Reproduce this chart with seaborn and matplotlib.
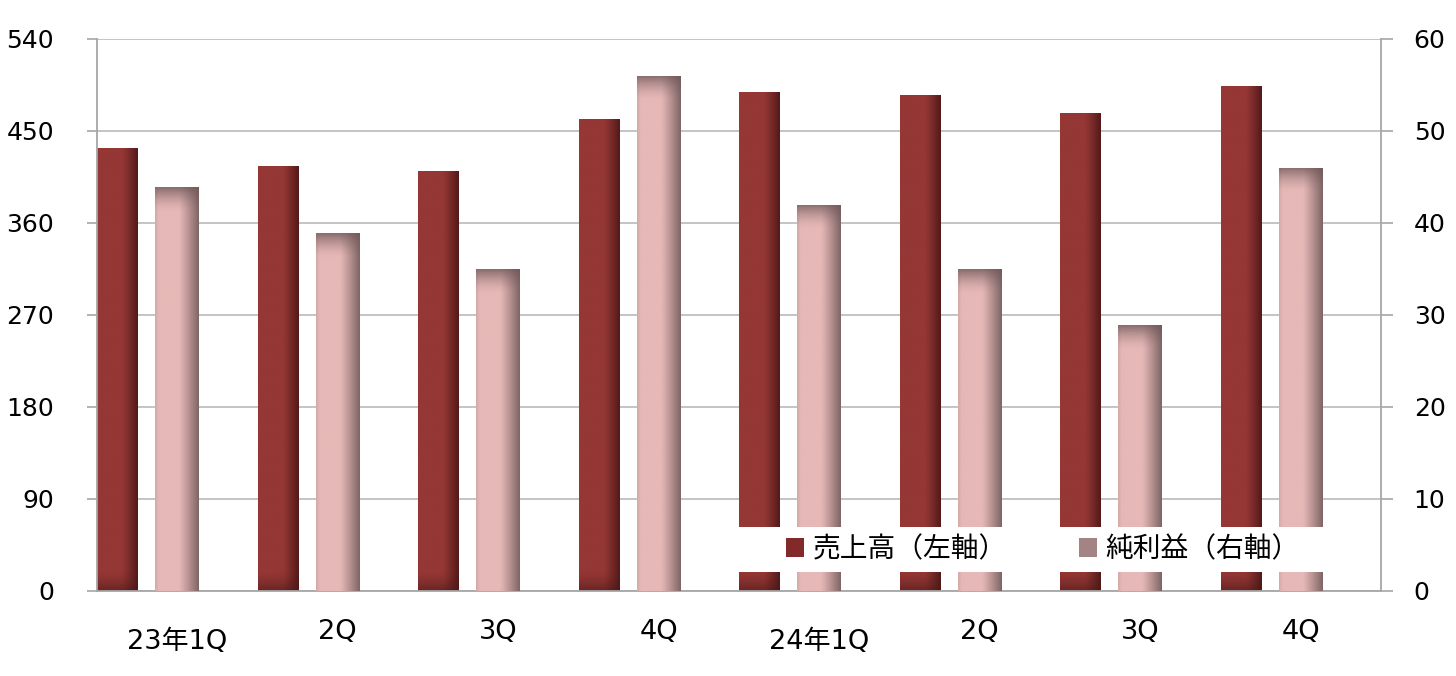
import numpy as np
import pandas as pd
import matplotlib
matplotlib.use("Agg")
import matplotlib.pyplot as plt
import seaborn as sns
from matplotlib.colors import to_rgb
from matplotlib.patches import Rectangle, Patch

# chart data
quarters = ["23年1Q", "2Q", "3Q", "4Q", "24年1Q", "2Q", "3Q", "4Q"]
sales = [433, 416, 411, 462, 488, 485, 468, 494]            # 売上高（左軸）
profit = [43.9, 38.9, 35.0, 56.0, 42.0, 35.0, 28.9, 46.0]   # 純利益（右軸）
left_ticks = [0, 90, 180, 270, 360, 450, 540]
right_ticks = [0, 10, 20, 30, 40, 50, 60]

SALES_C = "#953735"
SALES_DARK = "#4A1716"
PROFIT_C = "#E6B8B7"
PROFIT_DARK = "#6E5657"
GRID_C = "#BFBFBF"
AXIS_C = "#A6A6A6"

sns.set_style("white")
plt.rcParams['font.family'] = ['DejaVu Sans', 'Noto Sans CJK JP']
plt.rcParams['text.color'] = 'black'

idx = np.arange(len(quarters))
df = pd.DataFrame({"pos_s": idx - 0.371, "pos_p": idx + 0.0,
                   "sales": sales, "profit": profit})

fig, ax = plt.subplots(figsize=(14.56, 6.76), dpi=100)
fig.subplots_adjust(left=97/1456, right=1381/1456, top=1-39/676, bottom=1-591/676)
ax2 = ax.twinx()

sns.barplot(data=df, x="pos_s", y="sales", native_scale=True, width=0.255,
            color=SALES_C, saturation=1, linewidth=0, ax=ax)
sns.barplot(data=df, x="pos_p", y="profit", native_scale=True, width=0.274,
            color=PROFIT_C, saturation=1, linewidth=0, ax=ax2)


def shade(axis, px_per_unit, base, dark, kind):
    base = np.array(to_rgb(base))
    dark = np.array(to_rgb(dark))
    for p in list(axis.patches):
        x0, y0, w, h = p.get_x(), p.get_y(), p.get_width(), p.get_height()
        if h <= 0:
            continue
        nx, ny = 80, 200
        t = np.linspace(0, 1, nx)[None, :]
        hp = h * px_per_unit
        s = np.linspace(0, hp, ny)[:, None]  # px from bottom
        if kind == "sales":
            fh = np.clip((t - 0.6) / 0.4, 0, 1) ** 1.2 * 0.9
            fv = np.clip(1 - s / 20, 0, 1) ** 1.5 * 0.55
        else:
            fh = np.clip((t - 0.55) / 0.45, 0, 1) ** 1.1 * 0.85
            fh = fh + np.clip(1 - t / 0.08, 0, 1) * 0.15
            d = hp - s
            fv = np.clip(1 - d / 24, 0, 1) ** 1.6 * 0.75
        m = 1 - (1 - fh) * (1 - fv)
        img = base * (1 - m[..., None]) + dark * m[..., None]
        im = axis.imshow(img, extent=[x0, x0 + w, y0, y0 + h], origin="lower",
                         aspect="auto", interpolation="bilinear", zorder=2)
        im.set_clip_path(p)


shade(ax, 552 / 540, SALES_C, SALES_DARK, "sales")
shade(ax2, 552 / 60, PROFIT_C, PROFIT_DARK, "profit")

# axes limits and ticks
ax.set_xlim(-0.5, 7.5)
ax.set_ylim(0, 540)
ax2.set_ylim(0, 60)
ax.set_yticks(left_ticks)
ax2.set_yticks(right_ticks)
ax.set_xticks(np.arange(-0.5, 8, 1))
ax.set_xticklabels([])
ax.set_xticks(idx, minor=True)
ax.set_xticklabels(quarters, minor=True)
ax.set_xlabel("")
ax.set_ylabel("")
ax2.set_ylabel("")

ax.tick_params(axis="x", which="major", length=6, width=1.2, color=AXIS_C, direction="out")
ax.tick_params(axis="x", which="minor", length=0, pad=20, labelsize=19.5, labelcolor="black")
for i in (0, 4):
    ax.xaxis.get_minor_ticks()[i].set_pad(27)
ax.tick_params(axis="y", length=7, width=1.2, color=AXIS_C, pad=24, labelsize=18,
               labelcolor="black")
ax2.tick_params(axis="y", length=8.5, width=1.2, color=AXIS_C, pad=15, labelsize=18,
                labelcolor="black")

ax.set_axisbelow(True)
ax.yaxis.grid(True, color=GRID_C, lw=1.3)
ax.xaxis.grid(False)

for sp in ["top", "right"]:
    ax.spines[sp].set_visible(False)
for sp in ["top", "left", "bottom"]:
    ax2.spines[sp].set_visible(False)
for a, sp in [(ax, "left"), (ax, "bottom"), (ax2, "right")]:
    a.spines[sp].set_color(AXIS_C)
    a.spines[sp].set_linewidth(1.3)

# legend on a white box over the bars
fig.add_artist(Rectangle((737/1456, 1-572/676), 618/1456, 45/676,
                         transform=fig.transFigure, facecolor="white",
                         edgecolor="none", zorder=10))
handles = [Patch(facecolor="#82292A", edgecolor="none"),
           Patch(facecolor="#A38384", edgecolor="none")]
leg = fig.legend(handles, ["売上高（左軸）", "純利益（右軸）"], loc="center left",
                 bbox_to_anchor=(775/1456, 1-549/676), ncol=2, frameon=False,
                 fontsize=20, handlelength=0.65, handleheight=0.65,
                 handletextpad=0.3, columnspacing=2.6, borderaxespad=0,
                 labelcolor="black")
leg.set_zorder(11)

fig.savefig("out.png", dpi=100)
